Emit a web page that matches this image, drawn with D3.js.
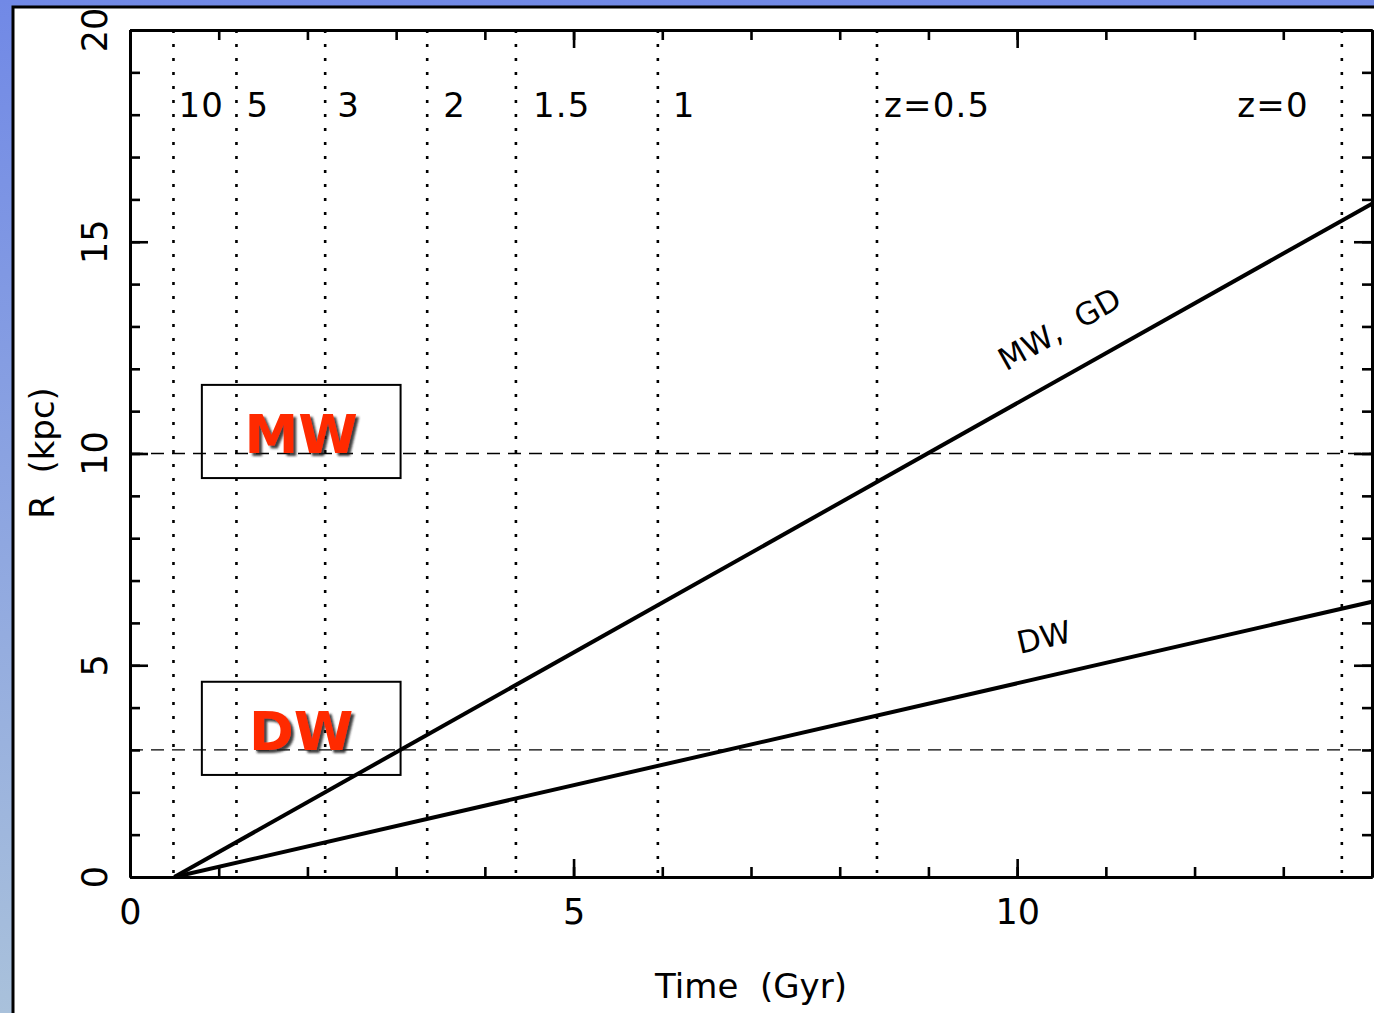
<!DOCTYPE html>
<html>
<head>
<meta charset="utf-8">
<script src="https://cdn.jsdelivr.net/npm/d3@7/dist/d3.min.js"></script>
<style>
  html, body { margin: 0; padding: 0; background: #ffffff; }
  svg { display: block; }
  text { font-family: "DejaVu Sans", sans-serif; fill: #000; white-space: pre; }
</style>
</head>
<body>
<svg id="chart" width="1374" height="1013"></svg>
<script>
// Cosmic time (Gyr) at which selected redshifts occur
const redshiftLabels = ["10", "5", "3", "2", "1.5", "1", "z=0.5", "z=0"];
const redshiftTimes  = [0.49, 1.2, 2.2, 3.35, 4.35, 5.95, 8.42, 13.66];

// Radius growth of the disc ("MW, GD") and dwarf ("DW") cases: [time Gyr, R kpc]
const mwTrack = [[0.5, 0], [14, 15.9]];
const dwTrack = [[0.5, 0], [14, 6.5]];

// Reference radii
const refRadii = [10, 3];

// Axis ticks
const xMajorTicks = [0, 5, 10];
const xMinorTicks = d3.range(0, 15, 1);
const yMajorTicks = [0, 5, 10, 15, 20];
const yMinorTicks = d3.range(0, 21, 1);

const svg = d3.select("#chart");
const W = 1374, H = 1013;

// Slide background: blue gradient frame with a white panel
const defs = svg.append("defs");
const grad = defs.append("linearGradient").attr("id", "bg").attr("x1", 0).attr("y1", 0).attr("x2", 0).attr("y2", 1);
grad.append("stop").attr("offset", "0%").attr("stop-color", "#7189e6");
grad.append("stop").attr("offset", "100%").attr("stop-color", "#a9c1db");
svg.append("rect").attr("width", W).attr("height", H).attr("fill", "url(#bg)");
svg.append("rect").attr("x", 13).attr("y", 7).attr("width", W + 20).attr("height", H + 20)
  .attr("fill", "#ffffff").attr("stroke", "#000").attr("stroke-width", 3);

// Soft drop shadow for the boxed red labels
const shadow = defs.append("filter").attr("id", "shadow")
  .attr("x", "-10%").attr("y", "-10%").attr("width", "130%").attr("height", "130%");
shadow.append("feGaussianBlur").attr("in", "SourceAlpha").attr("stdDeviation", 1.2).attr("result", "b");
shadow.append("feOffset").attr("in", "b").attr("dx", 3).attr("dy", 3).attr("result", "o");
shadow.append("feFlood").attr("flood-color", "#222").attr("flood-opacity", 0.85).attr("result", "c");
shadow.append("feComposite").attr("in", "c").attr("in2", "o").attr("operator", "in").attr("result", "s");
const merge = shadow.append("feMerge");
merge.append("feMergeNode").attr("in", "s");
merge.append("feMergeNode").attr("in", "SourceGraphic");

const x = d3.scaleLinear().domain([0, 14]).range([130, 1372]);
const y = d3.scaleLinear().domain([0, 20]).range([877, 30]);

const plot = svg.append("g");

// Redshift markers
plot.selectAll("line.zline").data(redshiftTimes).join("line")
  .attr("class", "zline")
  .attr("x1", d => x(d)).attr("x2", d => x(d))
  .attr("y1", y(20)).attr("y2", y(0))
  .attr("stroke", "#000").attr("stroke-width", 2.6)
  .attr("stroke-dasharray", "3,11");

// Redshift labels, placed just right of each marker (z=0 sits to its left)
const labelShift = [5, 10, 12, 16, 17, 15, 7, -33];
plot.selectAll("text.zlab").data(redshiftLabels).join("text")
  .attr("class", "zlab")
  .attr("x", (d, i) => x(redshiftTimes[i]) + labelShift[i])
  .attr("y", 117)
  .attr("text-anchor", (d, i) => labelShift[i] < 0 ? "end" : "start")
  .attr("font-size", 34)
  .attr("letter-spacing", 1.2)
  .text(d => d);

// Reference radii
plot.selectAll("line.rref").data(refRadii).join("line")
  .attr("class", "rref")
  .attr("x1", x(0)).attr("x2", x(14))
  .attr("y1", d => y(d)).attr("y2", d => y(d))
  .attr("stroke", "#000").attr("stroke-width", 1.3)
  .attr("stroke-dasharray", "13,8");

// Growth tracks
const line = d3.line().x(d => x(d[0])).y(d => y(d[1]));
plot.selectAll("path.track").data([mwTrack, dwTrack]).join("path")
  .attr("class", "track")
  .attr("d", line)
  .attr("fill", "none").attr("stroke", "#000").attr("stroke-width", 4);

// Track labels written along the lines
function trackLabel(track, t, text, lift, size) {
  const [a, b] = track;
  const r = a[1] + (b[1] - a[1]) * (t - a[0]) / (b[0] - a[0]);
  const ang = Math.atan2(y(b[1]) - y(a[1]), x(b[0]) - x(a[0])) * 180 / Math.PI;
  plot.append("text")
    .attr("transform", `translate(${x(t)},${y(r)}) rotate(${ang}) translate(0,${-lift})`)
    .attr("text-anchor", "middle")
    .attr("font-size", size)
    .text(text);
}
trackLabel(mwTrack, 10.72, "MW,  GD", 33, 31);
trackLabel(dwTrack, 10.4, "DW", 28, 31);

// Boxed galaxy labels
const boxes = [
  { name: "MW", t0: 0.81, t1: 3.05, r0: 9.42, r1: 11.62 },
  { name: "DW", t0: 0.81, t1: 3.05, r0: 2.41, r1: 4.61 }
];
boxes.forEach(b => {
  plot.append("rect")
    .attr("x", x(b.t0)).attr("y", y(b.r1))
    .attr("width", x(b.t1) - x(b.t0)).attr("height", y(b.r0) - y(b.r1))
    .attr("fill", "none").attr("stroke", "#000").attr("stroke-width", 2);
  const cx = (x(b.t0) + x(b.t1)) / 2;
  const cy = (y(b.r0) + y(b.r1)) / 2 + 22;
  plot.append("text").attr("x", cx).attr("y", cy)
    .attr("text-anchor", "middle").attr("font-weight", "bold").attr("font-size", 54)
    .attr("filter", "url(#shadow)")
    .style("fill", "#ff2a00").text(b.name);
});

// Axes with inward ticks on all four sides
function styleAxis(g) {
  g.selectAll("path.domain").attr("stroke", "#000").attr("stroke-width", 3);
  g.selectAll(".tick line").attr("stroke", "#000").attr("stroke-width", 2.6);
}
const axes = svg.append("g");
const fmt = d3.format("d");

axes.append("g").attr("transform", `translate(0,${y(0)})`)
  .call(d3.axisBottom(x).tickValues(xMinorTicks).tickSize(-10).tickSizeOuter(0).tickFormat(""))
  .call(styleAxis);
axes.append("g").attr("transform", `translate(0,${y(0)})`)
  .call(d3.axisBottom(x).tickValues(xMajorTicks).tickSize(-18).tickSizeOuter(0).tickPadding(22).tickFormat(fmt))
  .call(styleAxis)
  .call(g => g.selectAll("text").attr("font-size", 35).attr("font-family", "DejaVu Sans").style("fill", "#000"));

axes.append("g").attr("transform", `translate(0,${y(20)})`)
  .call(d3.axisTop(x).tickValues(xMinorTicks).tickSize(-10).tickSizeOuter(0).tickFormat(""))
  .call(styleAxis);
axes.append("g").attr("transform", `translate(0,${y(20)})`)
  .call(d3.axisTop(x).tickValues(xMajorTicks).tickSize(-18).tickSizeOuter(0).tickFormat(""))
  .call(styleAxis);

axes.append("g").attr("transform", `translate(${x(0)},0)`)
  .call(d3.axisLeft(y).tickValues(yMinorTicks).tickSize(-10).tickSizeOuter(0).tickFormat(""))
  .call(styleAxis);
axes.append("g").attr("transform", `translate(${x(0)},0)`)
  .call(d3.axisLeft(y).tickValues(yMajorTicks).tickSize(-18).tickSizeOuter(0).tickFormat(""))
  .call(styleAxis);

axes.append("g").attr("transform", `translate(${x(14)},0)`)
  .call(d3.axisRight(y).tickValues(yMinorTicks).tickSize(-10).tickSizeOuter(0).tickFormat(""))
  .call(styleAxis);
axes.append("g").attr("transform", `translate(${x(14)},0)`)
  .call(d3.axisRight(y).tickValues(yMajorTicks).tickSize(-18).tickSizeOuter(0).tickFormat(""))
  .call(styleAxis);

// Rotated y tick labels
axes.selectAll("text.ylab").data(yMajorTicks).join("text")
  .attr("class", "ylab")
  .attr("transform", d => `translate(107,${y(d)}) rotate(-90)`)
  .attr("text-anchor", "middle")
  .attr("font-size", 35)
  .text(fmt);

// Axis titles
svg.append("text").attr("x", 751).attr("y", 998)
  .attr("text-anchor", "middle").attr("font-size", 34).text("Time  (Gyr)");
svg.append("text").attr("transform", `translate(54,453) rotate(-90)`)
  .attr("text-anchor", "middle").attr("font-size", 34).text("R  (kpc)");
</script>
</body>
</html>
